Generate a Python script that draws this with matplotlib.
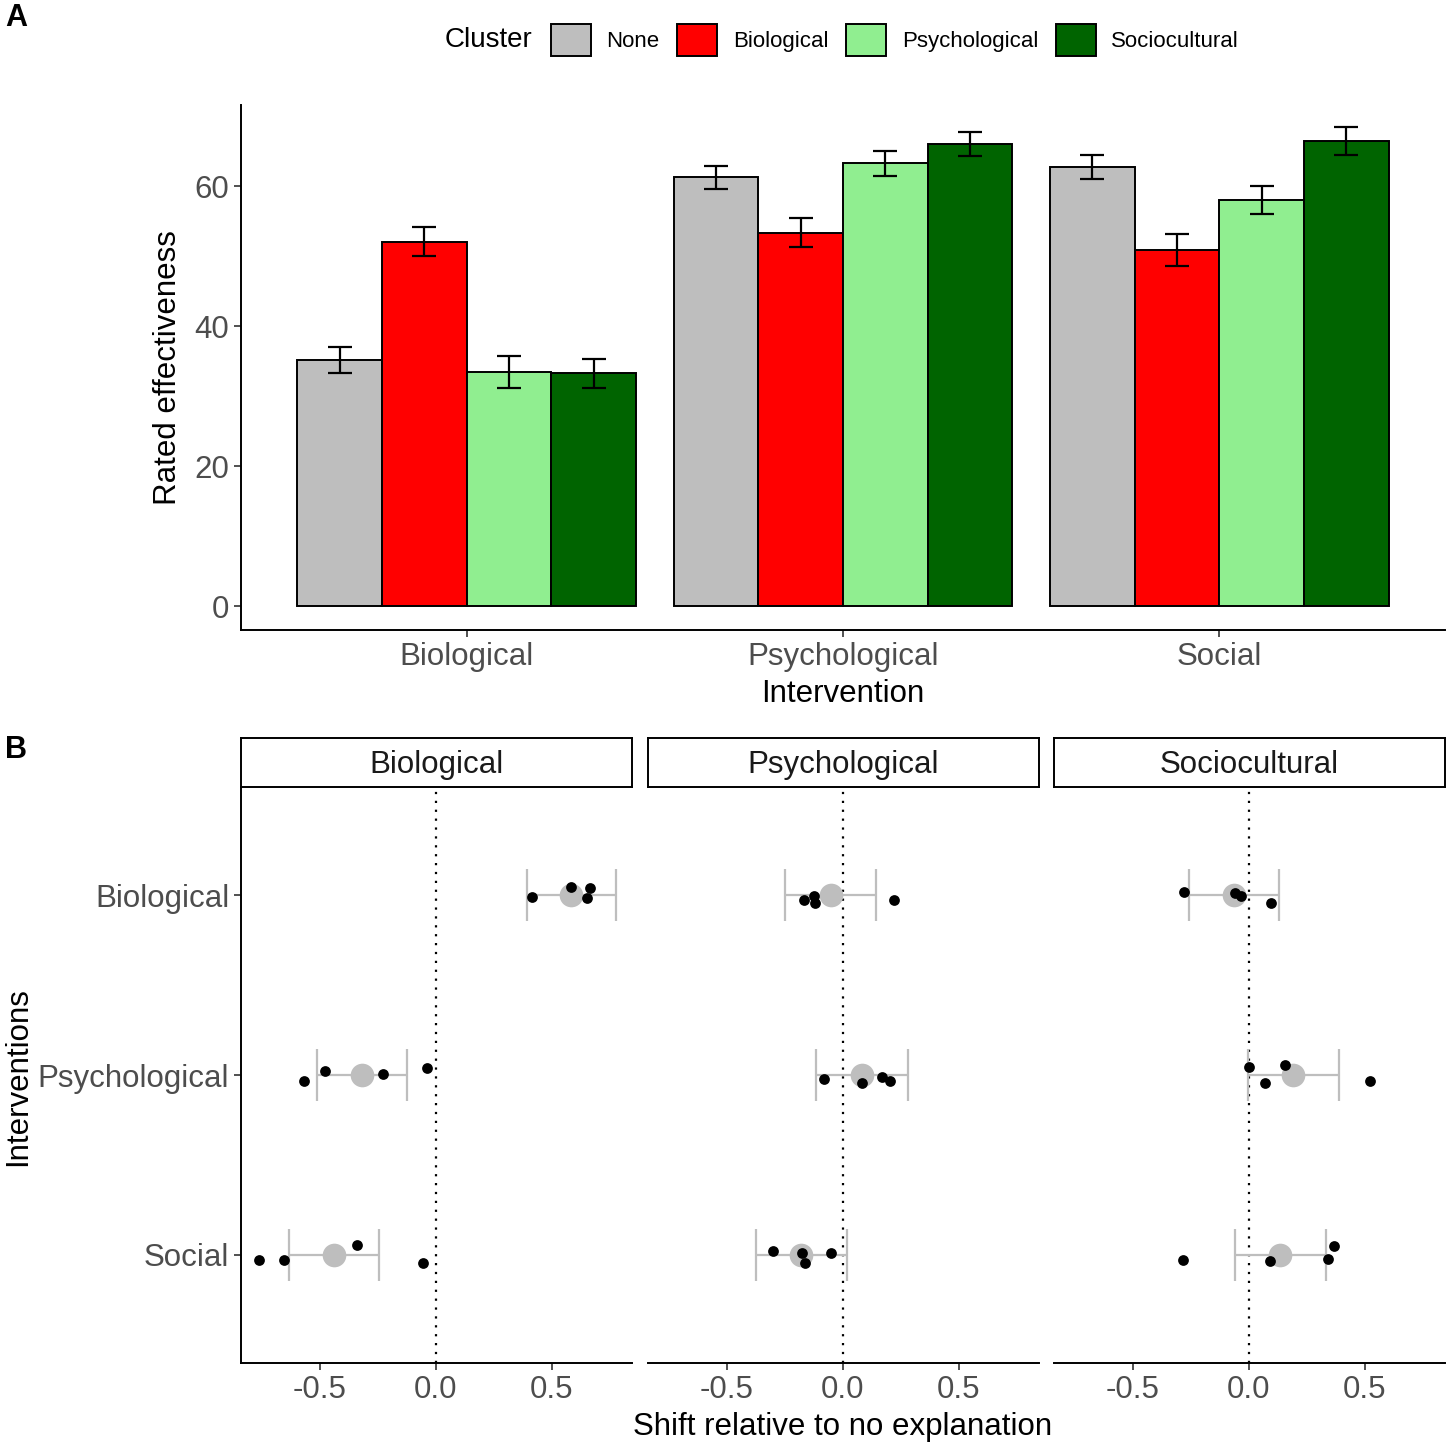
import numpy as np
import matplotlib
matplotlib.use("Agg")
import matplotlib.pyplot as plt
from matplotlib.patches import Patch

plt.rcParams['font.family'] = ['Liberation Sans', 'DejaVu Sans']

# ---- panel A data ----
groups = ['Biological', 'Psychological', 'Social']
clusters = ['None', 'Biological', 'Psychological', 'Sociocultural']
cluster_colors = ['#BEBEBE', '#FF0000', '#90EE90', '#006400']

none_mean = [35.2, 61.3, 62.8]
bio_mean = [52.1, 53.35, 50.9]
psych_mean = [33.5, 63.3, 58.0]
socio_mean = [33.25, 66.0, 66.4]
none_se = [1.9, 1.65, 1.7]
bio_se = [2.1, 2.1, 2.3]
psych_se = [2.3, 1.8, 2.0]
socio_se = [2.1, 1.7, 2.0]

# ---- panel B data ----
facets = ['Biological', 'Psychological', 'Sociocultural']
rows = ['Biological', 'Psychological', 'Social']

f1_mean = [0.581, -0.318, -0.441]
f1_lo = [0.392, -0.514, -0.634]
f1_hi = [0.775, -0.124, -0.247]
f1_pts = [[0.412, 0.583, 0.662, 0.649],
          [-0.569, -0.476, -0.228, -0.039],
          [-0.763, -0.654, -0.342, -0.055]]
f1_jit = [[0.009, -0.043, -0.039, 0.017],
          [0.035, -0.024, -0.006, -0.039],
          [0.026, 0.026, -0.054, 0.043]]

f2_mean = [-0.052, 0.082, -0.181]
f2_lo = [-0.249, -0.116, -0.376]
f2_hi = [0.142, 0.280, 0.017]
f2_pts = [[-0.167, -0.125, -0.121, 0.220],
          [-0.082, 0.082, 0.169, 0.201],
          [-0.300, -0.177, -0.165, -0.050]]
f2_jit = [[0.026, 0.004, 0.044, 0.028],
          [0.020, 0.043, 0.011, 0.031],
          [-0.022, -0.013, 0.043, -0.013]]

f3_mean = [-0.063, 0.191, 0.134]
f3_lo = [-0.257, -0.003, -0.062]
f3_hi = [0.129, 0.388, 0.331]
f3_pts = [[-0.279, -0.060, -0.034, 0.093],
          [0.001, 0.155, 0.070, 0.523],
          [-0.283, 0.091, 0.342, 0.368]]
f3_jit = [[-0.017, -0.013, 0.006, 0.046],
          [-0.046, -0.054, 0.046, 0.031],
          [0.029, 0.031, 0.024, -0.051]]

W, H = 1450, 1447
fig = plt.figure(figsize=(W / 100, H / 100), dpi=100)

def fx(px):
    return px / W

def fy(py):
    return 1 - py / H

tick_gray = '#4D4D4D'
lw_axis = 1.4
fs = 22.5

# ---------------- Panel A ----------------
axA = fig.add_axes([fx(241), fy(630), fx(1445) - fx(241), fy(105) - fy(630)])
means = [none_mean, bio_mean, psych_mean, socio_mean]
ses = [none_se, bio_se, psych_se, socio_se]
x = np.arange(1, len(groups) + 1)
bw = 0.225
for i, (m, s, c) in enumerate(zip(means, ses, cluster_colors)):
    xpos = x + (i - 1.5) * bw
    axA.bar(xpos, m, width=bw, color=c, edgecolor='black', linewidth=1.4, zorder=2)
    axA.errorbar(xpos, m, yerr=s, fmt='none', ecolor='black', elinewidth=1.6,
                 capsize=8.5, capthick=1.6, zorder=3)

axA.set_xlim(0.4, 3.6)
axA.set_ylim(-3.4, 71.6)
axA.set_xticks(x)
axA.set_xticklabels(groups)
axA.set_yticks([0, 20, 40, 60])
axA.spines['top'].set_visible(False)
axA.spines['right'].set_visible(False)
for sp in ['left', 'bottom']:
    axA.spines[sp].set_linewidth(lw_axis)
axA.tick_params(labelsize=fs, labelcolor=tick_gray, color='#333333', length=5, width=1.2)
axA.set_ylabel('Rated effectiveness', fontsize=fs, labelpad=8)
axA.set_xlabel('Intervention', fontsize=fs, labelpad=5)

# legend
handles = [Patch(facecolor=c, edgecolor='black', linewidth=1.4) for c in cluster_colors]
fig.legend(handles, clusters, ncol=4, loc='center', bbox_to_anchor=(fx(895), fy(40)),
           frameon=False, fontsize=16, handlelength=1.8, handleheight=1.8,
           handletextpad=0.7, columnspacing=0.8, borderaxespad=0, borderpad=0)
fig.text(fx(532), fy(40), 'Cluster', fontsize=20, ha='right', va='center')

fig.text(fx(5), fy(18), 'A', fontsize=22, fontweight='bold', va='center')
fig.text(fx(5), fy(750), 'B', fontsize=22, fontweight='bold', va='center')

# ---------------- Panel B ----------------
facet_data = [
    (f1_mean, f1_lo, f1_hi, f1_pts, f1_jit),
    (f2_mean, f2_lo, f2_hi, f2_pts, f2_jit),
    (f3_mean, f3_lo, f3_hi, f3_pts, f3_jit),
]
lefts = [241, 648, 1054]
pw = 391
yrow = np.arange(1, len(rows) + 1)
for k, (name, (mn, lo, hi, pts, jit)) in enumerate(zip(facets, facet_data)):
    ax = fig.add_axes([fx(lefts[k]), fy(1363), fx(pw), fy(787) - fy(1363)])
    mn = np.array(mn)
    xerr = [mn - np.array(lo), np.array(hi) - mn]
    ax.axvline(0, color='black', linestyle=(0, (1, 3)), linewidth=1.6, zorder=1)
    ax.errorbar(mn, yrow, xerr=xerr, fmt='none', ecolor='#BEBEBE', elinewidth=1.6,
                capsize=18.7, capthick=1.6, zorder=2)
    ax.scatter(mn, yrow, s=290, color='#BEBEBE', linewidths=0, zorder=3)
    for r in range(len(rows)):
        ax.scatter(pts[r], yrow[r] + np.array(jit[r]), s=60, color='black',
                   linewidths=0, zorder=4)
    ax.set_xlim(-0.84, 0.845)
    ax.set_ylim(3.6, 0.4)
    ax.set_xticks([-0.5, 0.0, 0.5])
    ax.set_xticklabels(['-0.5', '0.0', '0.5'])
    ax.spines['top'].set_visible(False)
    ax.spines['right'].set_visible(False)
    ax.spines['bottom'].set_linewidth(lw_axis)
    ax.tick_params(labelsize=fs, labelcolor=tick_gray, color='#333333', length=5, width=1.2)
    if k == 0:
        ax.spines['left'].set_linewidth(lw_axis)
        ax.set_yticks(yrow)
        ax.set_yticklabels(rows)
    else:
        ax.spines['left'].set_visible(False)
        ax.set_yticks([])
    # strip
    sax = fig.add_axes([fx(lefts[k]), fy(787), fx(pw), fy(738) - fy(787)])
    sax.set_xticks([])
    sax.set_yticks([])
    for sp in sax.spines.values():
        sp.set_linewidth(lw_axis)
    sax.text(0.5, 0.44, name, fontsize=fs, ha='center', va='center', color='#1A1A1A',
             transform=sax.transAxes)

fig.text(fx(843), fy(1427), 'Shift relative to no explanation', fontsize=fs,
         ha='center', va='center')
fig.text(fx(18), fy(1077), 'Interventions', fontsize=fs, rotation=90,
         ha='center', va='center')

fig.savefig('out.png', dpi=100)
